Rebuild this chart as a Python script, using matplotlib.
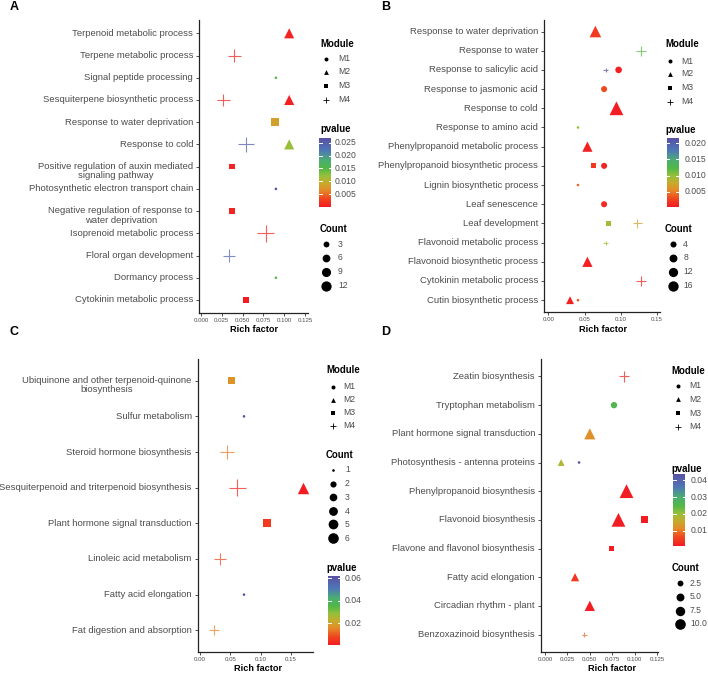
import numpy as np
import matplotlib
matplotlib.use('Agg')
import matplotlib.pyplot as plt
from matplotlib.colors import LinearSegmentedColormap, Normalize
import matplotlib.transforms as mtransforms

plt.rcParams['font.family'] = ['Liberation Sans', 'DejaVu Sans']

# ---------------- DATA ----------------
A_categories = ["Terpenoid metabolic process", "Terpene metabolic process", "Signal peptide processing",
                "Sesquiterpene biosynthetic process", "Response to water deprivation", "Response to cold",
                "Positive regulation of auxin mediated\nsignaling pathway",
                "Photosynthetic electron transport chain",
                "Negative regulation of response to\nwater deprivation",
                "Isoprenoid metabolic process", "Floral organ development", "Dormancy process",
                "Cytokinin metabolic process"]
A_term = ["Terpenoid metabolic process", "Terpene metabolic process", "Signal peptide processing",
          "Sesquiterpene biosynthetic process", "Sesquiterpene biosynthetic process",
          "Response to water deprivation", "Response to cold", "Response to cold",
          "Positive regulation of auxin mediated signaling pathway",
          "Photosynthetic electron transport chain",
          "Negative regulation of response to water deprivation",
          "Isoprenoid metabolic process", "Floral organ development", "Dormancy process",
          "Cytokinin metabolic process"]
A_module = ["M2", "M4", "M1", "M4", "M2", "M3", "M4", "M2", "M3", "M1", "M3", "M4", "M4", "M1", "M3"]
A_rich = [0.106, 0.040, 0.090, 0.027, 0.106, 0.089, 0.054, 0.106, 0.037, 0.090, 0.037, 0.078, 0.034, 0.090, 0.054]
A_pvalue = [0.0008, 0.0010, 0.0150, 0.0010, 0.0005, 0.0085, 0.0250, 0.0120, 0.0008, 0.0267, 0.0008,
            0.0012, 0.0235, 0.0150, 0.0001]
A_count = [6, 7, 1, 6, 6, 10, 10, 6, 4, 1, 4, 13, 6, 1, 6]

B_categories = ["Response to water deprivation", "Response to water", "Response to salicylic acid",
                "Response to jasmonic acid", "Response to cold", "Response to amino acid",
                "Phenylpropanoid metabolic process", "Phenylpropanoid biosynthetic process",
                "Lignin biosynthetic process", "Leaf senescence", "Leaf development",
                "Flavonoid metabolic process", "Flavonoid biosynthetic process",
                "Cytokinin metabolic process", "Cutin biosynthetic process"]
B_term = ["Response to water deprivation", "Response to water", "Response to salicylic acid",
          "Response to salicylic acid", "Response to jasmonic acid", "Response to cold",
          "Response to amino acid", "Phenylpropanoid metabolic process",
          "Phenylpropanoid biosynthetic process", "Phenylpropanoid biosynthetic process",
          "Lignin biosynthetic process", "Leaf senescence", "Leaf development", "Leaf development",
          "Flavonoid metabolic process", "Flavonoid biosynthetic process",
          "Cytokinin metabolic process", "Cutin biosynthetic process", "Cutin biosynthetic process"]
B_module = ["M2", "M4", "M4", "M1", "M1", "M2", "M1", "M2", "M3", "M1", "M1", "M1", "M3", "M4",
            "M4", "M2", "M4", "M2", "M1"]
B_rich = [0.065, 0.128, 0.079, 0.097, 0.077, 0.094, 0.041, 0.054, 0.062, 0.077, 0.041, 0.077, 0.083,
          0.123, 0.079, 0.054, 0.128, 0.030, 0.041]
B_pvalue = [0.0022, 0.0120, 0.0216, 0.0005, 0.0030, 0.0003, 0.0100, 0.0006, 0.0020, 0.0008, 0.0040,
            0.0012, 0.0090, 0.0070, 0.0090, 0.0005, 0.0010, 0.0005, 0.0035]
B_count = [11, 4, 1, 5, 4, 17, 1, 8, 4, 4, 1, 4, 5, 4, 1, 8, 4, 4, 1]

C_categories = ["Ubiquinone and other terpenoid-quinone\nbiosynthesis", "Sulfur metabolism",
                "Steroid hormone biosynthesis", "Sesquiterpenoid and triterpenoid biosynthesis",
                "Plant hormone signal transduction", "Linoleic acid metabolism",
                "Fatty acid elongation", "Fat digestion and absorption"]
C_term = ["Ubiquinone and other terpenoid-quinone biosynthesis", "Sulfur metabolism",
          "Steroid hormone biosynthesis", "Sesquiterpenoid and triterpenoid biosynthesis",
          "Sesquiterpenoid and triterpenoid biosynthesis", "Plant hormone signal transduction",
          "Linoleic acid metabolism", "Fatty acid elongation", "Fat digestion and absorption"]
C_module = ["M3", "M1", "M4", "M4", "M2", "M3", "M4", "M1", "M4"]
C_rich = [0.052, 0.0725, 0.044, 0.0615, 0.169, 0.111, 0.033, 0.0725, 0.0236]
C_pvalue = [0.017, 0.0615, 0.014, 0.003, 0.0007, 0.006, 0.009, 0.0615, 0.015]
C_count = [3, 1, 4, 6, 4, 5, 3, 1, 2]

D_categories = ["Zeatin biosynthesis", "Tryptophan metabolism", "Plant hormone signal transduction",
                "Photosynthesis - antenna proteins", "Phenylpropanoid biosynthesis",
                "Flavonoid biosynthesis", "Flavone and flavonol biosynthesis", "Fatty acid elongation",
                "Circadian rhythm - plant", "Benzoxazinoid biosynthesis"]
D_term = ["Zeatin biosynthesis", "Tryptophan metabolism", "Plant hormone signal transduction",
          "Photosynthesis - antenna proteins", "Photosynthesis - antenna proteins",
          "Phenylpropanoid biosynthesis", "Flavonoid biosynthesis", "Flavonoid biosynthesis",
          "Flavone and flavonol biosynthesis", "Fatty acid elongation", "Circadian rhythm - plant",
          "Benzoxazinoid biosynthesis"]
D_module = ["M4", "M1", "M2", "M2", "M1", "M2", "M2", "M3", "M3", "M2", "M2", "M4"]
D_rich = [0.088, 0.077, 0.050, 0.018, 0.038, 0.091, 0.082, 0.1115, 0.0745, 0.0335, 0.050, 0.044]
D_pvalue = [0.002, 0.026, 0.012, 0.018, 0.0438, 0.0008, 0.0008, 0.0008, 0.0008, 0.004, 0.0008, 0.009]
D_count = [3, 3, 6, 2, 1, 10, 10, 5, 3, 3, 5, 1]

modules = ["M1", "M2", "M3", "M4"]
A_count_breaks = [3, 6, 9, 12]
B_count_breaks = [4, 8, 12, 16]
C_count_breaks = [1, 2, 3, 4, 5, 6]
D_count_breaks = [2.5, 5.0, 7.5, 10.0]
A_p_breaks = [0.005, 0.010, 0.015, 0.020, 0.025]
B_p_breaks = [0.005, 0.010, 0.015, 0.020]
C_p_breaks = [0.02, 0.04, 0.06]
D_p_breaks = [0.01, 0.02, 0.03, 0.04]

# ---------------- STYLE ----------------
W, H = 708, 673
fig = plt.figure(figsize=(W / 100, H / 100), dpi=100)
cmap = LinearSegmentedColormap.from_list("pv", [
    (0.00, "#F31C23"), (0.12, "#F0461F"), (0.24, "#E58A28"), (0.34, "#C9AA2C"),
    (0.45, "#98C03A"), (0.56, "#52B848"), (0.68, "#4BAE72"), (0.82, "#4E78B6"),
    (1.00, "#5A50A4")])
MARK = {"M1": "o", "M2": "^", "M3": "s", "M4": "+"}
SCALE = {"M1": 1.0, "M2": 1.3, "M3": 0.85, "M4": 1.6}
GRAY = "#4D4D4D"
LABEL_FS = 6.8
LEG_FS = 6.2
TITLE_FS = 6.9


def diam(c, cmin, cmax):
    return 2.6 + 8.0 * np.sqrt((np.asarray(c, float) - cmin) / (cmax - cmin))


def draw_panel(box, cats, terms, mods, rich, pv, cnt, xlim, xticks, xtl, crange):
    l, t, r, b = box
    ax = fig.add_axes([l / W, 1 - b / H, (r - l) / W, (b - t) / H])
    keys = [c.replace("\n", " ") for c in cats]
    n = len(cats)
    ys = np.array([keys.index(tt) + 1 for tt in terms])
    norm = Normalize(min(pv), max(pv))
    for m in modules:
        idx = [i for i, mm in enumerate(mods) if mm == m]
        if not idx:
            continue
        d = diam([cnt[i] for i in idx], *crange) * SCALE[m]
        s = (d * 0.72) ** 2
        cols = cmap(norm([pv[i] for i in idx]))
        if m == "M4":
            ax.scatter([rich[i] for i in idx], ys[idx], s=s, marker="+", c=cols,
                       linewidths=0.8, alpha=0.75, zorder=3)
        else:
            ax.scatter([rich[i] for i in idx], ys[idx], s=s, marker=MARK[m], c=cols,
                       linewidths=0, zorder=3)
    ax.set_xlim(*xlim)
    ax.set_ylim(n + 0.6, 0.4)
    ax.set_yticks(np.arange(1, n + 1))
    ax.set_yticklabels([])
    ax.set_xticks(xticks)
    ax.set_xticklabels(xtl, fontsize=4.4, color=GRAY)
    ax.tick_params(axis="both", length=2.2, width=0.6, color="#333333", pad=1.5)
    for sp in ["top", "right"]:
        ax.spines[sp].set_visible(False)
    for sp in ["left", "bottom"]:
        ax.spines[sp].set_linewidth(0.9)
        ax.spines[sp].set_color("#222222")
    ax.patch.set_alpha(0)
    base = mtransforms.blended_transform_factory(ax.transAxes, ax.transData)
    for i, c in enumerate(cats):
        if "\n" in c:
            tr = base + mtransforms.ScaledTranslation(-6 / 100, 4.8 / 100, fig.dpi_scale_trans)
            ax.text(0, i + 1, c, transform=tr, ha="right", va="top", multialignment="center",
                    fontsize=LABEL_FS, color=GRAY, linespacing=1.05)
        else:
            tr = base + mtransforms.ScaledTranslation(-6 / 100, 0, fig.dpi_scale_trans)
            ax.text(0, i + 1, c, transform=tr, ha="right", va="center", fontsize=LABEL_FS, color=GRAY)
    return ax


panels = [
    dict(box=(199, 20, 308, 313.3), cats=A_categories, terms=A_term, mods=A_module, rich=A_rich,
         pv=A_pvalue, cnt=A_count, xlim=(-0.0024, 0.1286),
         xticks=[0, 0.025, 0.05, 0.075, 0.1, 0.125],
         xtl=["0.000", "0.025", "0.050", "0.075", "0.100", "0.125"], crange=(1, 13)),
    dict(box=(544, 20, 660, 311.7), cats=B_categories, terms=B_term, mods=B_module, rich=B_rich,
         pv=B_pvalue, cnt=B_count, xlim=(-0.0059, 0.1541), xticks=[0, 0.05, 0.1, 0.15],
         xtl=["0.00", "0.05", "0.10", "0.15"], crange=(1, 17)),
    dict(box=(197.7, 359.3, 313.3, 651.7), cats=C_categories, terms=C_term, mods=C_module,
         rich=C_rich, pv=C_pvalue, cnt=C_count, xlim=(-0.0038, 0.1868),
         xticks=[0, 0.05, 0.1, 0.15], xtl=["0.00", "0.05", "0.10", "0.15"], crange=(1, 6)),
    dict(box=(541, 359.3, 658.3, 651.7), cats=D_categories, terms=D_term, mods=D_module,
         rich=D_rich, pv=D_pvalue, cnt=D_count, xlim=(-0.0045, 0.1265),
         xticks=[0, 0.025, 0.05, 0.075, 0.1, 0.125],
         xtl=["0.000", "0.025", "0.050", "0.075", "0.100", "0.125"], crange=(1, 10)),
]
for p in panels:
    draw_panel(**p)

# overlay in pixel coordinates for legends & labels
ov = fig.add_axes([0, 0, 1, 1])
ov.set_xlim(0, W)
ov.set_ylim(H, 0)
ov.axis("off")
ov.patch.set_alpha(0)

for lab, x, y in [("A", 14, 7.5), ("B", 386, 7.5), ("C", 14, 332), ("D", 386, 332)]:
    ov.text(x, y, lab, fontsize=9, fontweight="bold", ha="center", va="center")
for x, y in [(254.5, 329.5), (603, 329.5), (258.5, 668.5), (612.3, 668.5)]:
    ov.text(x, y, "Rich factor", fontsize=6.6, fontweight="bold", ha="center", va="center")


def module_legend(xt, yt, xm, xl, ys):
    ov.text(xt, yt, "Module", fontsize=TITLE_FS, fontweight="bold", ha="left", va="center")
    for m, y in zip(modules, ys):
        d = 4.0 * {"M1": 1.0, "M2": 1.2, "M3": 0.9, "M4": 1.5}[m]
        if m == "M4":
            ov.scatter([xm], [y], s=(d * 0.72) ** 2, marker="+", c="black", linewidths=0.6)
        else:
            ov.scatter([xm], [y], s=(d * 0.72) ** 2, marker=MARK[m], c="black", linewidths=0)
        ov.text(xl, y, m, fontsize=LEG_FS, color=GRAY, ha="left", va="center")


def count_legend(xt, yt, xm, xl, ys, breaks, crange):
    ov.text(xt, yt, "Count", fontsize=TITLE_FS, fontweight="bold", ha="left", va="center")
    for v, y in zip(breaks, ys):
        d = diam(v, *crange)
        ov.scatter([xm], [y], s=(d * 0.72) ** 2, marker="o", c="black", linewidths=0)
        lab = ("%g" % v) if isinstance(v, int) else ("%.1f" % v)
        ov.text(xl, y, lab, fontsize=LEG_FS, color=GRAY, ha="left", va="center")


def p_legend(xt, yt, x0, x1, y0, y1, xl, breaks, pv, fmt):
    ov.text(xt, yt, "pvalue", fontsize=TITLE_FS, fontweight="bold", ha="left", va="center")
    grad = np.linspace(0, 1, 256).reshape(-1, 1)
    ov.imshow(grad, cmap=cmap, origin="lower", extent=(x0, x1, y1, y0), aspect="auto",
              interpolation="bilinear")
    vmin, vmax = min(pv), max(pv)
    for v in breaks:
        y = y1 - (v - vmin) / (vmax - vmin) * (y1 - y0)
        ov.plot([x0, x0 + 2.2], [y, y], color="white", lw=0.7)
        ov.plot([x1 - 2.2, x1], [y, y], color="white", lw=0.7)
        ov.text(xl, y, fmt % v, fontsize=LEG_FS, color=GRAY, ha="left", va="center")


# A legends
module_legend(320, 43.7, 326, 338, [58.7, 72, 86, 100])
p_legend(320, 129.3, 319.3, 331, 138.3, 206.7, 335, A_p_breaks, A_pvalue, "%.3f")
count_legend(320, 229.3, 326, 338, [244.3, 257.7, 271.7, 285.7], A_count_breaks, (1, 13))
# B legends
module_legend(665, 44.3, 670, 681.7, [61.3, 74, 88, 101.7])
p_legend(665, 130, 666.7, 678.3, 138.3, 206.7, 685, B_p_breaks, B_pvalue, "%.3f")
count_legend(665, 229, 673.3, 683.3, [244.3, 257.7, 271.7, 285.7], B_count_breaks, (1, 17))
# C legends
module_legend(326, 370, 332.7, 343, [386.7, 400, 412.7, 425.7])
count_legend(326, 455, 333.3, 345, [470, 484, 497.3, 511, 524.3, 538.3], C_count_breaks, (1, 6))
p_legend(326, 568.3, 328.3, 340, 576.7, 645, 345, C_p_breaks, C_pvalue, "%.2f")
# D legends
module_legend(671.7, 370.7, 677.7, 689.3, [385.7, 399.3, 413.3, 426.7])
p_legend(671.7, 469.3, 673.3, 685.3, 474, 546, 691, D_p_breaks, D_pvalue, "%.2f")
count_legend(671.7, 568.3, 680, 690, [583.3, 596.7, 610.7, 624], D_count_breaks, (1, 10))

ov.set_xlim(0, W)
ov.set_ylim(H, 0)
fig.savefig("out.png", dpi=100)
